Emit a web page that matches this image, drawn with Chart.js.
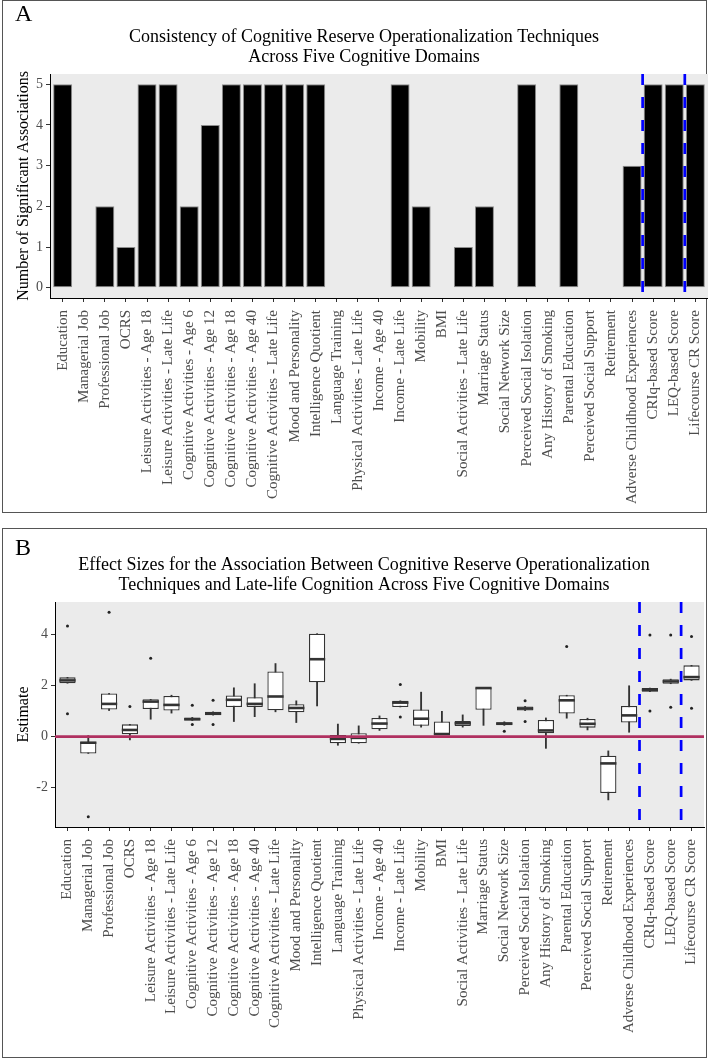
<!DOCTYPE html>
<html>
<head>
<meta charset="utf-8">
<script src="https://cdn.jsdelivr.net/npm/chart.js@4.4.1/dist/chart.umd.min.js"></script>
<style>
  body { margin: 0; background: #fff; }
  #page { position: relative; width: 708px; height: 1062px; overflow: hidden; }
  .frame { position: absolute; left: 2px; width: 705px; box-sizing: border-box; border: 1px solid #555; }
  .tag { position: absolute; font: 24px/24px 'Liberation Serif', 'Times New Roman', serif; color: #000; }
  canvas { position: absolute; left: 0; }
</style>
</head>
<body>
<div id="page">
  <div class="frame" style="top:0;height:513px"></div>
  <div class="frame" style="top:528px;height:530px"></div>
  <canvas id="panel-a" width="708" height="512" style="top:0"></canvas>
  <canvas id="panel-b" width="708" height="530" style="top:528px"></canvas>
  <div class="tag" style="left:15px;top:1px">A</div>
  <div class="tag" style="left:15px;top:535px">B</div>
</div>
<script>
// CR operationalization techniques (x axis of both panels)
const categories = [
    'Education', 'Managerial Job', 'Professional Job', 'OCRS',
    'Leisure Activities - Age 18', 'Leisure Activities - Late Life',
    'Cognitive Activities - Age 6', 'Cognitive Activities - Age 12',
    'Cognitive Activities - Age 18', 'Cognitive Activities - Age 40',
    'Cognitive Activities - Late Life', 'Mood and Personality',
    'Intelligence Quotient', 'Language Training', 'Physical Activities - Late Life',
    'Income - Age 40', 'Income - Late Life', 'Mobility', 'BMI',
    'Social Activities - Late Life', 'Marriage Status', 'Social Network Size',
    'Perceived Social Isolation', 'Any History of Smoking', 'Parental Education',
    'Perceived Social Support', 'Retirement', 'Adverse Childhood Experiences',
    'CRIq-based Score', 'LEQ-based Score', 'Lifecourse CR Score'
];

// Panel A: number of significant associations
const sigCounts = [5, 0, 2, 1, 5, 5, 2, 4, 5, 5, 5, 5, 5, 0, 0, 0, 5, 2, 0, 1, 2, 0, 5, 0, 5, 0, 0, 3, 5, 5, 5];
const countTicks = [0, 1, 2, 3, 4, 5];
const countRange = [-0.25, 5.25];

// Panel B: boxplot statistics of the estimates
const boxLow  = [2.09, -0.66, 1.02, -0.13, 0.68, 0.92, 0.63, 0.84, 0.59, 0.78, 0.97, 0.55, 1.20, -0.34, -0.26, 0.24, 1.16, 0.37, 0.08, 0.37, 0.44, 0.44, 1.02, -0.46, 0.72, 0.26, -2.48, 0.17, 1.76, 2.07, 2.20];
const boxQ1   = [2.09, -0.66, 1.06, 0.09, 1.08, 1.02, 0.63, 0.84, 1.16, 1.16, 1.03, 0.95, 2.13, -0.26, -0.26, 0.29, 1.16, 0.42, 0.08, 0.41, 1.05, 0.44, 1.02, 0.13, 0.90, 0.35, -2.21, 0.55, 1.76, 2.07, 2.20];
const boxMed  = [2.20, -0.24, 1.28, 0.26, 1.37, 1.24, 0.68, 0.90, 1.44, 1.28, 1.57, 1.12, 3.03, -0.09, -0.05, 0.51, 1.33, 0.70, 0.10, 0.52, 1.90, 0.51, 1.10, 0.24, 1.42, 0.50, -1.05, 0.83, 1.83, 2.16, 2.33];
const boxQ3   = [2.32, -0.21, 1.69, 0.48, 1.46, 1.59, 0.75, 0.97, 1.61, 1.54, 2.55, 1.27, 4.03, 0.06, 0.13, 0.73, 1.40, 1.06, 0.59, 0.61, 1.92, 0.56, 1.18, 0.65, 1.62, 0.69, -0.75, 1.20, 1.90, 2.25, 2.79];
const boxHigh = [2.32, 0.04, 1.69, 0.48, 1.46, 1.62, 0.75, 0.97, 1.91, 2.07, 2.86, 1.40, 4.03, 0.49, 0.42, 0.81, 1.40, 1.74, 0.99, 0.85, 1.92, 0.58, 1.18, 0.73, 1.62, 0.72, -0.56, 1.99, 1.90, 2.25, 2.79];
const outliers = [
    [4.33, 0.89], [-3.14], [4.87], [1.18], [3.07], [], [1.23, 0.47], [1.42, 0.47],
    [], [], [], [], [], [], [], [], [2.04, 0.77], [], [], [], [], [0.21], [1.40, 0.59],
    [], [3.53], [], [], [], [3.98, 1.00], [3.98, 1.15], [3.92, 1.11]
];
const estTicks = [-2, 0, 2, 4];
const estRange = [-3.54, 5.27];

// dashed separators before the composite scores
const dividers = [27.5, 29.5];
const xRange = [-0.6, 30.6];

Chart.defaults.font.family = "'Liberation Serif', 'Times New Roman', serif";

const panelBg = {
    id: 'panelBg',
    beforeDraw(chart) {
        const { ctx, chartArea: a } = chart;
        ctx.save();
        ctx.fillStyle = '#EBEBEB';
        ctx.fillRect(a.left, a.top, a.right - a.left, a.bottom - a.top);
        ctx.restore();
    }
};

function xAxis(height) {
    return {
        type: 'linear',
        min: xRange[0],
        max: xRange[1],
        offset: false,
        afterBuildTicks: s => { s.ticks = categories.map((c, i) => ({ value: i })); },
        afterFit: s => { s.height = height; s.paddingLeft = 0; s.paddingRight = 0; },
        ticks: {
            autoSkip: false,
            minRotation: 90,
            maxRotation: 90,
            padding: 8,
            color: '#4D4D4D',
            font: { size: 15 },
            callback: v => categories[v]
        },
        grid: { offset: false, drawOnChartArea: false, tickLength: 4, color: '#333' },
        border: { color: '#000', width: 1 }
    };
}

function yAxis(range, tickVals, title, width) {
    return {
        min: range[0],
        max: range[1],
        afterBuildTicks: s => { s.ticks = tickVals.map(v => ({ value: v })); },
        afterFit: s => { s.width = width; },
        ticks: { padding: 3, color: '#4D4D4D', font: { size: 14 } },
        grid: { drawOnChartArea: false, tickLength: 4, color: '#333' },
        border: { color: '#000', width: 1 },
        title: { display: true, text: title, color: '#000', font: { size: 16 }, padding: { top: -6, bottom: 0 } }
    };
}

function baseOptions(titleLines, xHeight, yScale) {
    return {
        responsive: false,
        animation: false,
        events: [],
        layout: { padding: { left: 20, right: 0, top: 27, bottom: 0 } },
        plugins: {
            legend: { display: false },
            tooltip: { enabled: false },
            title: {
                display: true,
                text: titleLines,
                color: '#000',
                font: { size: 18, weight: 'normal', lineHeight: 20 / 18 },
                padding: { top: 0, bottom: 7 }
            }
        },
        scales: { x: xAxis(xHeight), y: yScale }
    };
}

function dividerSets(range) {
    return dividers.map(d => ({
        type: 'line',
        data: [{ x: d, y: range[1] }, { x: d, y: range[0] }],
        borderColor: '#0000FF',
        borderWidth: 2.7,
        borderDash: [11, 12],
        pointRadius: 0,
        order: 0
    }));
}

// Panel A
new Chart(document.getElementById('panel-a'), {
    type: 'bar',
    data: {
        datasets: [
            {
                data: sigCounts.map((v, i) => ({ x: i, y: v })),
                backgroundColor: '#000',
                borderColor: '#8C8C8C',
                borderWidth: 1,
                borderSkipped: false,
                barPercentage: 0.9,
                categoryPercentage: 1,
                order: 1
            },
            ...dividerSets(countRange)
        ]
    },
    options: baseOptions(
        ['Consistency of Cognitive Reserve Operationalization Techniques', 'Across Five Cognitive Domains'],
        214,
        yAxis(countRange, countTicks, 'Number of Significant Associations', 30)
    ),
    plugins: [panelBg]
});

// Panel B
const halfBox = chart => {
    const xs = chart.scales.x;
    return 0.39 * (xs.getPixelForValue(1) - xs.getPixelForValue(0));
};

new Chart(document.getElementById('panel-b'), {
    type: 'bar',
    data: {
        datasets: [
            {   // whiskers
                data: categories.map((c, i) => ({ x: i, y: [boxLow[i], boxHigh[i]] })),
                backgroundColor: '#333',
                barThickness: 1.2,
                grouped: false,
                order: 5
            },
            {   // boxes
                data: categories.map((c, i) => ({ x: i, y: [boxQ1[i], boxQ3[i]] })),
                backgroundColor: '#FFFFFF',
                borderColor: '#333',
                borderWidth: 1.3,
                borderSkipped: false,
                barPercentage: 0.78,
                categoryPercentage: 1,
                grouped: false,
                order: 4
            },
            {   // medians
                type: 'scatter',
                data: boxMed.map((v, i) => ({ x: i, y: v })),
                pointStyle: 'line',
                pointRadius: ctx => halfBox(ctx.chart),
                pointBorderWidth: 2.6,
                pointBorderColor: '#333',
                order: 3
            },
            {   // outliers
                type: 'scatter',
                data: outliers.flatMap((vals, i) => vals.map(v => ({ x: i, y: v }))),
                pointRadius: 1.5,
                pointBackgroundColor: '#222',
                pointBorderWidth: 0,
                order: 2
            },
            {   // zero reference line
                type: 'line',
                data: [{ x: xRange[0], y: 0 }, { x: xRange[1], y: 0 }],
                borderColor: '#B03060',
                borderWidth: 2.7,
                pointRadius: 0,
                order: 1
            },
            ...dividerSets(estRange)
        ]
    },
    options: baseOptions(
        ['Effect Sizes for the Association Between Cognitive Reserve Operationalization',
         'Techniques and Late-life Cognition Across Five Cognitive Domains'],
        231,
        yAxis(estRange, estTicks, 'Estimate', 35)
    ),
    plugins: [panelBg]
});
</script>
</body>
</html>
